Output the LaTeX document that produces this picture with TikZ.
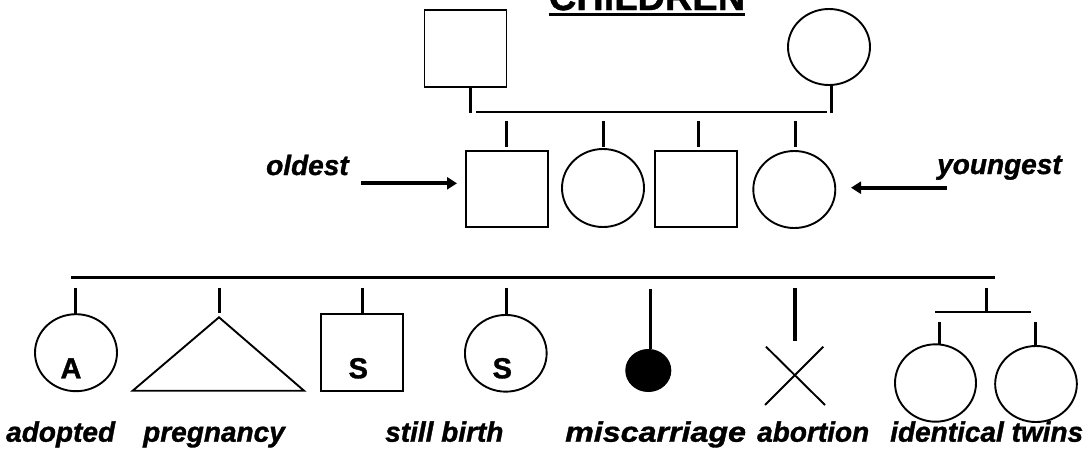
\documentclass[tikz,border=0pt]{standalone}
\usepackage{fontspec}
\setmainfont{Liberation Sans}
\newfontfamily\lblfont[FakeBold=1.2]{Liberation Sans}
\usetikzlibrary{shapes.geometric,arrows.meta}
\begin{document}
\begin{tikzpicture}[x=1pt,y=-1pt,
  shapeline/.style={draw=black,line width=1.9pt},
  male/.style={shapeline,rectangle,minimum width=82pt,minimum height=77pt,inner sep=0pt,outer sep=0pt},
  female/.style={shapeline,ellipse,minimum width=82pt,minimum height=77pt,inner sep=0pt,outer sep=0pt},
  conn/.style={line width=3pt},
  hline/.style={line width=2.4pt},
  arrowline/.style={line width=4.2pt,-{Triangle[length=10pt,width=12pt]}},
  lbl/.style={font=\lblfont\fontsize{28}{32}\selectfont\bfseries\itshape,inner sep=0pt,anchor=base west},
  letter/.style={font=\lblfont\fontsize{29}{32}\selectfont\bfseries,inner sep=0pt,anchor=base},
  titlestyle/.style={font=\lblfont\fontsize{38}{42}\selectfont\bfseries,inner sep=0pt,anchor=base}
]
\useasboundingbox (0,0) rectangle (1084,448);

% title
\node[titlestyle] (title) at (647,10) {CHILDREN};
\draw[line width=2.8pt] ([yshift=-4.7pt]title.base west) -- ([yshift=-4.7pt]title.base east);

% parents
\node[male] (fa) at (465.5,48.5) {};
\node[female,minimum height=76pt] (mo) at (829,47) {};
\coordinate (fl) at (470.7,113);
\coordinate (ml) at (831,113);
\coordinate (cl) at (476,111.7);
\coordinate (cr) at (827,111.7);
\draw[conn] (fa.south -| fl) -- (fl);
\draw[conn] (mo.south -| ml) -- (ml);
\draw[hline] (cl) -- (cr);

% children
\node[male,minimum width=81.7pt,minimum height=76.3pt] (c1) at (506.8,189) {};
\node[female,minimum height=78pt] (c2) at (603,188) {};
\node[male,minimum width=81.7pt,minimum height=76.3pt] (c3) at (696,189) {};
\node[female] (c4) at (794.3,189.5) {};
\foreach \n/\x in {c1/506.7,c2/603,c3/698.7,c4/795}{
  \coordinate (t\n) at (\x,121);
  \draw[conn] (t\n) -- (\x,146.7);
}

% arrows and labels
\node[lbl] (old) at (266,175) {oldest};
\node[lbl] (young) at (937,174) {youngest};
\coordinate (oa1) at (361,183.3);
\coordinate (oa2) at (457,183.3);
\coordinate (ya1) at (946.7,187.7);
\coordinate (ya2) at (851,187.7);
\draw[arrowline] (oa1) -- (oa2);
\draw[arrowline] (ya1) -- (ya2);

% bottom main line
\coordinate (bl) at (71,277.3);
\coordinate (br) at (995,277.3);
\draw[hline] (bl) -- (br);

% adopted
\node[female,minimum width=82pt,minimum height=77pt] (ad) at (76,352.7) {};
\node[letter] (adA) at (71,378.3) {A};
\draw[conn] (75,287.7) -- (ad.north -| 75,0);

% pregnancy
\coordinate (apex) at (219,317.3);
\coordinate (pbr) at (304,390.7);
\coordinate (pbl) at (132.7,390.7);
\draw[shapeline] (apex) -- (pbr) -- (pbl) -- cycle;
\draw[conn] (219,287.7) -- (219,313);

% still birth square
\node[male,minimum width=81.7pt,minimum height=77pt] (sbm) at (361.8,352.5) {};
\node[letter] (sbmS) at (358.3,378.3) {S};
\draw[conn] (362.7,287.7) -- (sbm.north -| 362.7,0);

% still birth circle
\node[female,minimum width=81.7pt,minimum height=76.7pt] (sbf) at (505.8,353.3) {};
\node[letter] (sbfS) at (502.3,378.3) {S};
\draw[conn] (506.7,287.7) -- (sbf.north -| 506.7,0);

% miscarriage
\node[ellipse,fill=black,draw=black,line width=1pt,minimum width=45pt,minimum height=42pt,inner sep=0pt] (mis) at (648.3,370.5) {};
\draw[line width=3.2pt] (650.7,289) -- (650.7,349);

% abortion
\coordinate (ab1) at (766,346.7);
\coordinate (ab2) at (825,405);
\coordinate (ab3) at (823.3,346.7);
\coordinate (ab4) at (765,405);
\draw[shapeline] (ab1) -- (ab2);
\draw[shapeline] (ab3) -- (ab4);
\draw[line width=3.4pt] (795,288.3) -- (795,340.7);

% identical twins
\draw[conn] (986.7,288.3) -- (986.7,313.3);
\draw[hline] (935,311.7) -- (1030.7,311.7);
\node[female,minimum width=81pt,minimum height=77.4pt] (tw1) at (935.5,383) {};
\node[female,minimum width=81.7pt,minimum height=76pt] (tw2) at (1036,384) {};
\draw[conn] (939,321.7) -- (tw1.north -| 939,0);
\draw[conn] (1035,321.7) -- (tw2.north -| 1035,0);

% bottom labels
\node[lbl] (l1) at (6,441.7) {adopted};
\node[lbl] (l2) at (143,441.7) {pregnancy};
\node[lbl] (l3) at (385,441.7) {still birth};
\node[lbl] (l4) at (565,441.7) {\scalebox{1.15}[1]{miscarriage}};
\node[lbl] (l5) at (757,441.7) {abortion};
\node[lbl] (l6) at (890,441.7) {identical twins};
\end{tikzpicture}
\end{document}
